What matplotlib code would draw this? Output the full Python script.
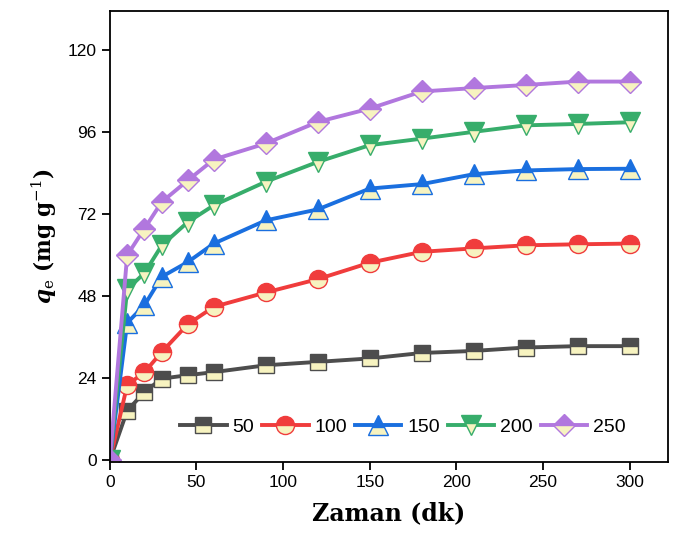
import matplotlib
matplotlib.use("Agg")
import matplotlib.pyplot as plt

time = [0, 10, 20, 30, 45, 60, 90, 120, 150, 180, 210, 240, 270, 300]
q50 = [0, 14.5, 20.0, 23.9, 24.9, 25.8, 27.8, 28.8, 29.8, 31.4, 32.0, 33.0, 33.4, 33.4]
q100 = [0, 22.0, 25.8, 31.7, 39.8, 44.9, 49.1, 53.0, 57.8, 61.0, 62.0, 62.9, 63.2, 63.4]
q150 = [0, 40.2, 45.4, 53.7, 58.0, 63.4, 70.2, 73.4, 79.5, 80.8, 83.7, 84.8, 85.2, 85.3]
q200 = [0, 50.0, 54.8, 62.9, 69.7, 74.6, 81.5, 87.3, 92.2, 94.1, 96.1, 98.0, 98.4, 98.9]
q250 = [0, 60.0, 67.8, 75.6, 81.9, 88.0, 92.7, 99.0, 102.9, 107.9, 108.9, 109.8, 110.8, 110.8]
labels = ["50", "100", "150", "200", "250"]
xticks = [0, 50, 100, 150, 200, 250, 300]
yticks = [0, 24, 48, 72, 96, 120]

series = [q50, q100, q150, q200, q250]
colors = ["#4D4D4D", "#F03C3C", "#1A6FDF", "#37AD6B", "#B177DE"]
markers = ["s", "o", "^", "v", "D"]
msizes = [12, 13, 14, 14, 11]
cream = "#F7F3C0"

plt.rcParams['font.family'] = ['Liberation Sans', 'DejaVu Sans']
plt.rcParams['mathtext.fontset'] = 'dejavuserif'
fig = plt.figure(figsize=(6.78, 5.41), dpi=100)
ax = fig.add_axes([0.162, 0.146, 0.823, 0.834])

for y, c, m, ms, lab in zip(series, colors, markers, msizes, labels):
    ax.plot(time, y, color=c, lw=2.8, marker=m, markersize=ms,
            fillstyle='top', markerfacecolor=c, markerfacecoloralt=cream,
            markeredgecolor=c, markeredgewidth=1.0, label=lab)

ax.set_xlim(0, 322)
ax.set_ylim(-0.5, 131.5)
ax.set_xticks(xticks)
ax.set_yticks(yticks)
ax.tick_params(direction='out', length=6, width=1.3, labelsize=12.5)
for s in ax.spines.values():
    s.set_linewidth(1.3)

ax.set_xlabel("Zaman (dk)", family='DejaVu Serif', fontweight='bold', fontsize=17, labelpad=8)
ax.set_ylabel(r"$\mathbfit{q}_{\mathrm{e}}$ (mg g$^{-1}$)", family='DejaVu Serif',
              fontweight='bold', fontsize=15.5, labelpad=6)

ax.legend(loc='center', bbox_to_anchor=(0.525, 0.078), ncol=5, frameon=False,
          fontsize=14, handlelength=2.4, handletextpad=0.3, columnspacing=0.4)

fig.savefig("out.png", dpi=100)
